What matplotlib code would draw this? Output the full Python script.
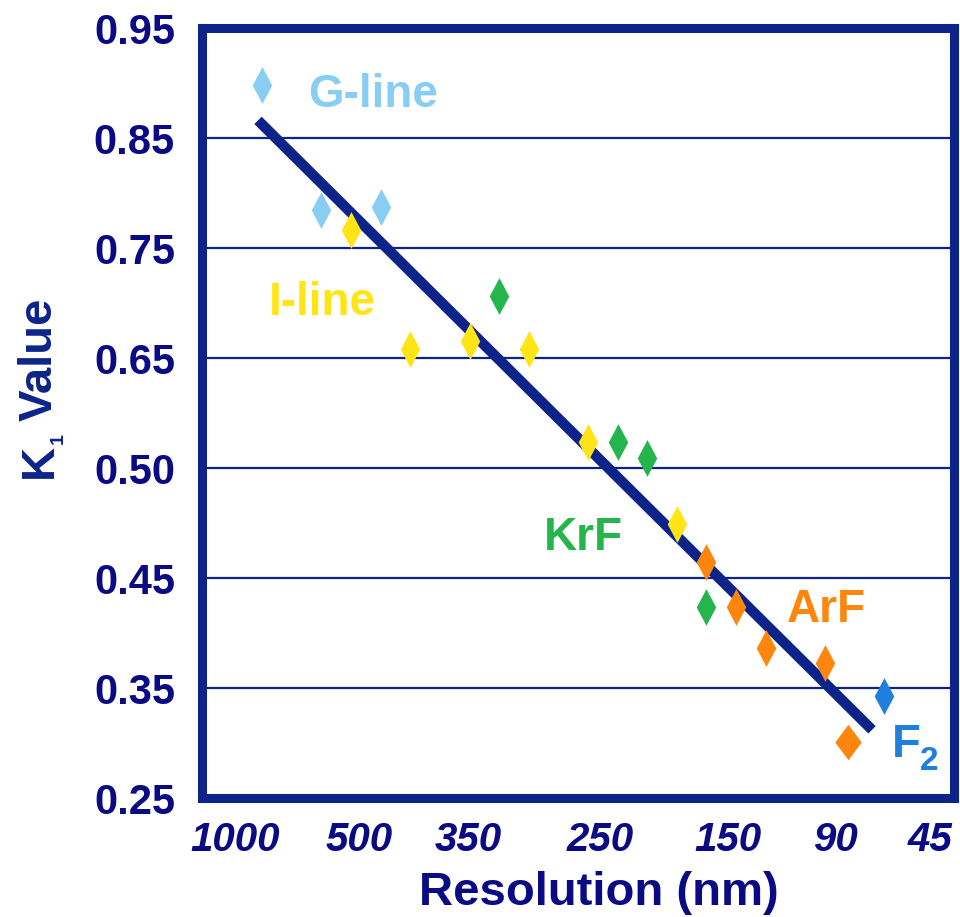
import matplotlib
matplotlib.use("Agg")
import matplotlib.pyplot as plt

# ---------------- data ----------------
x_tick_pos = [0.44, 2.09, 3.54, 5.29, 6.99, 8.43, 9.68]
x_tick_labels = ["1000", "500", "350", "250", "150", "90", "45"]
y_tick_pos = [0, 1, 2, 3, 4, 5, 6, 7]
y_tick_labels = ["0.25", "0.35", "0.45", "0.50", "0.65", "0.75", "0.85", "0.95"]

g_line_x = [0.80, 1.58, 2.38]
g_line_y = [6.48, 5.35, 5.37]
i_line_x = [1.98, 2.77, 3.56, 4.35, 5.13, 6.32]
i_line_y = [5.16, 4.08, 4.15, 4.08, 3.24, 2.49]
krf_x = [3.95, 5.53, 5.92, 6.70]
krf_y = [4.56, 3.24, 3.09, 1.74]
arf_x = [6.70, 7.10, 7.50, 8.28]
arf_y = [2.15, 1.74, 1.36, 1.23]
arf_wide_x = [8.59]
arf_wide_y = [0.51]
f2_x = [9.07]
f2_y = [0.93]
fit_x = [0.745, 8.91]
fit_y = [6.16, 0.62]

# ---------------- style ----------------
plt.rcParams["font.family"] = ["Liberation Sans", "DejaVu Sans"]

NAVY = "#0C2389"
TICK = "#0A0A84"
C_G = "#88CEF3"
C_I = "#FFE516"
C_KRF = "#26B44C"
C_ARF = "#FF860C"
C_F2 = "#1F7FDC"

W, H = 960, 917
fig = plt.figure(figsize=(W / 100, H / 100), dpi=100)
ax = fig.add_axes([202 / W, 1 - 798 / H, (954 - 202) / W, (798 - 28) / H])
ax.set_xlim(0, 10)
ax.set_ylim(0, 7)

thin = [(0, 1), (0.53, 0), (0, -1), (-0.53, 0)]
wide = [(0, 1), (0.75, 0), (0, -1), (-0.75, 0)]

ax.grid(axis="y", color=NAVY, lw=1.6, zorder=0)
ax.grid(axis="x", visible=False)
ax.set_axisbelow(True)

ax.plot(fit_x, fit_y, color=NAVY, lw=7.5, solid_capstyle="butt", zorder=2)

for xs, ys, c in [(g_line_x, g_line_y, C_G), (i_line_x, i_line_y, C_I),
                  (krf_x, krf_y, C_KRF), (arf_x, arf_y, C_ARF), (f2_x, f2_y, C_F2)]:
    ax.plot(xs, ys, ls="none", marker=thin, ms=26.5, color=c, mew=0, zorder=3)
ax.plot(arf_wide_x, arf_wide_y, ls="none", marker=wide, ms=25.5, color=C_ARF, mew=0, zorder=3)

lab_kw = dict(fontsize=33, fontweight="bold", ha="center", va="baseline", zorder=4)
ax.text(2.27, 6.28, "G-line", color=C_G, **lab_kw)
ax.text(1.60, 4.39, "I-line", color=C_I, **lab_kw)
ax.text(5.07, 2.255, "KrF", color=C_KRF, **lab_kw)
ax.text(8.30, 1.60, "ArF", color=C_ARF, **lab_kw)

# F2 label (main letter + subscript)
fig.text(892 / W, 1 - 757 / H, "F", color=C_F2, fontsize=34, fontweight="bold",
         ha="left", va="baseline")
fig.text(920 / W, 1 - 770 / H, "2", color=C_F2, fontsize=24, fontweight="bold",
         ha="left", va="baseline")

ax.set_xticks(x_tick_pos)
ax.set_xticklabels(x_tick_labels, fontsize=29, fontweight="bold", fontstyle="italic", color=TICK)
ax.set_yticks(y_tick_pos)
ax.set_yticklabels(y_tick_labels, fontsize=30, fontweight="bold", color=TICK)
ax.tick_params(axis="x", length=0, pad=16.5)
ax.tick_params(axis="y", length=0, pad=19.5)

for s in ax.spines.values():
    s.set_color(NAVY)
    s.set_linewidth(6.5)

fig.text(599 / W, 1 - 905 / H, "Resolution (nm)", fontsize=34, fontweight="bold",
         color=TICK, ha="center", va="baseline")

# Y label: "K" + small subscript "1" + "Value", rotated
rot_kw = dict(fontweight="bold", color=NAVY, ha="left", va="baseline",
              rotation=90, rotation_mode="anchor")
fig.text(52 / W, 1 - 478 / H, "K", fontsize=34, **rot_kw)
fig.text(63 / W, 1 - 444 / H, "1", fontsize=14, **rot_kw)
fig.text(52 / W, 1 - 421 / H, "Value", fontsize=34, **rot_kw)

fig.savefig("out.png", dpi=100)
